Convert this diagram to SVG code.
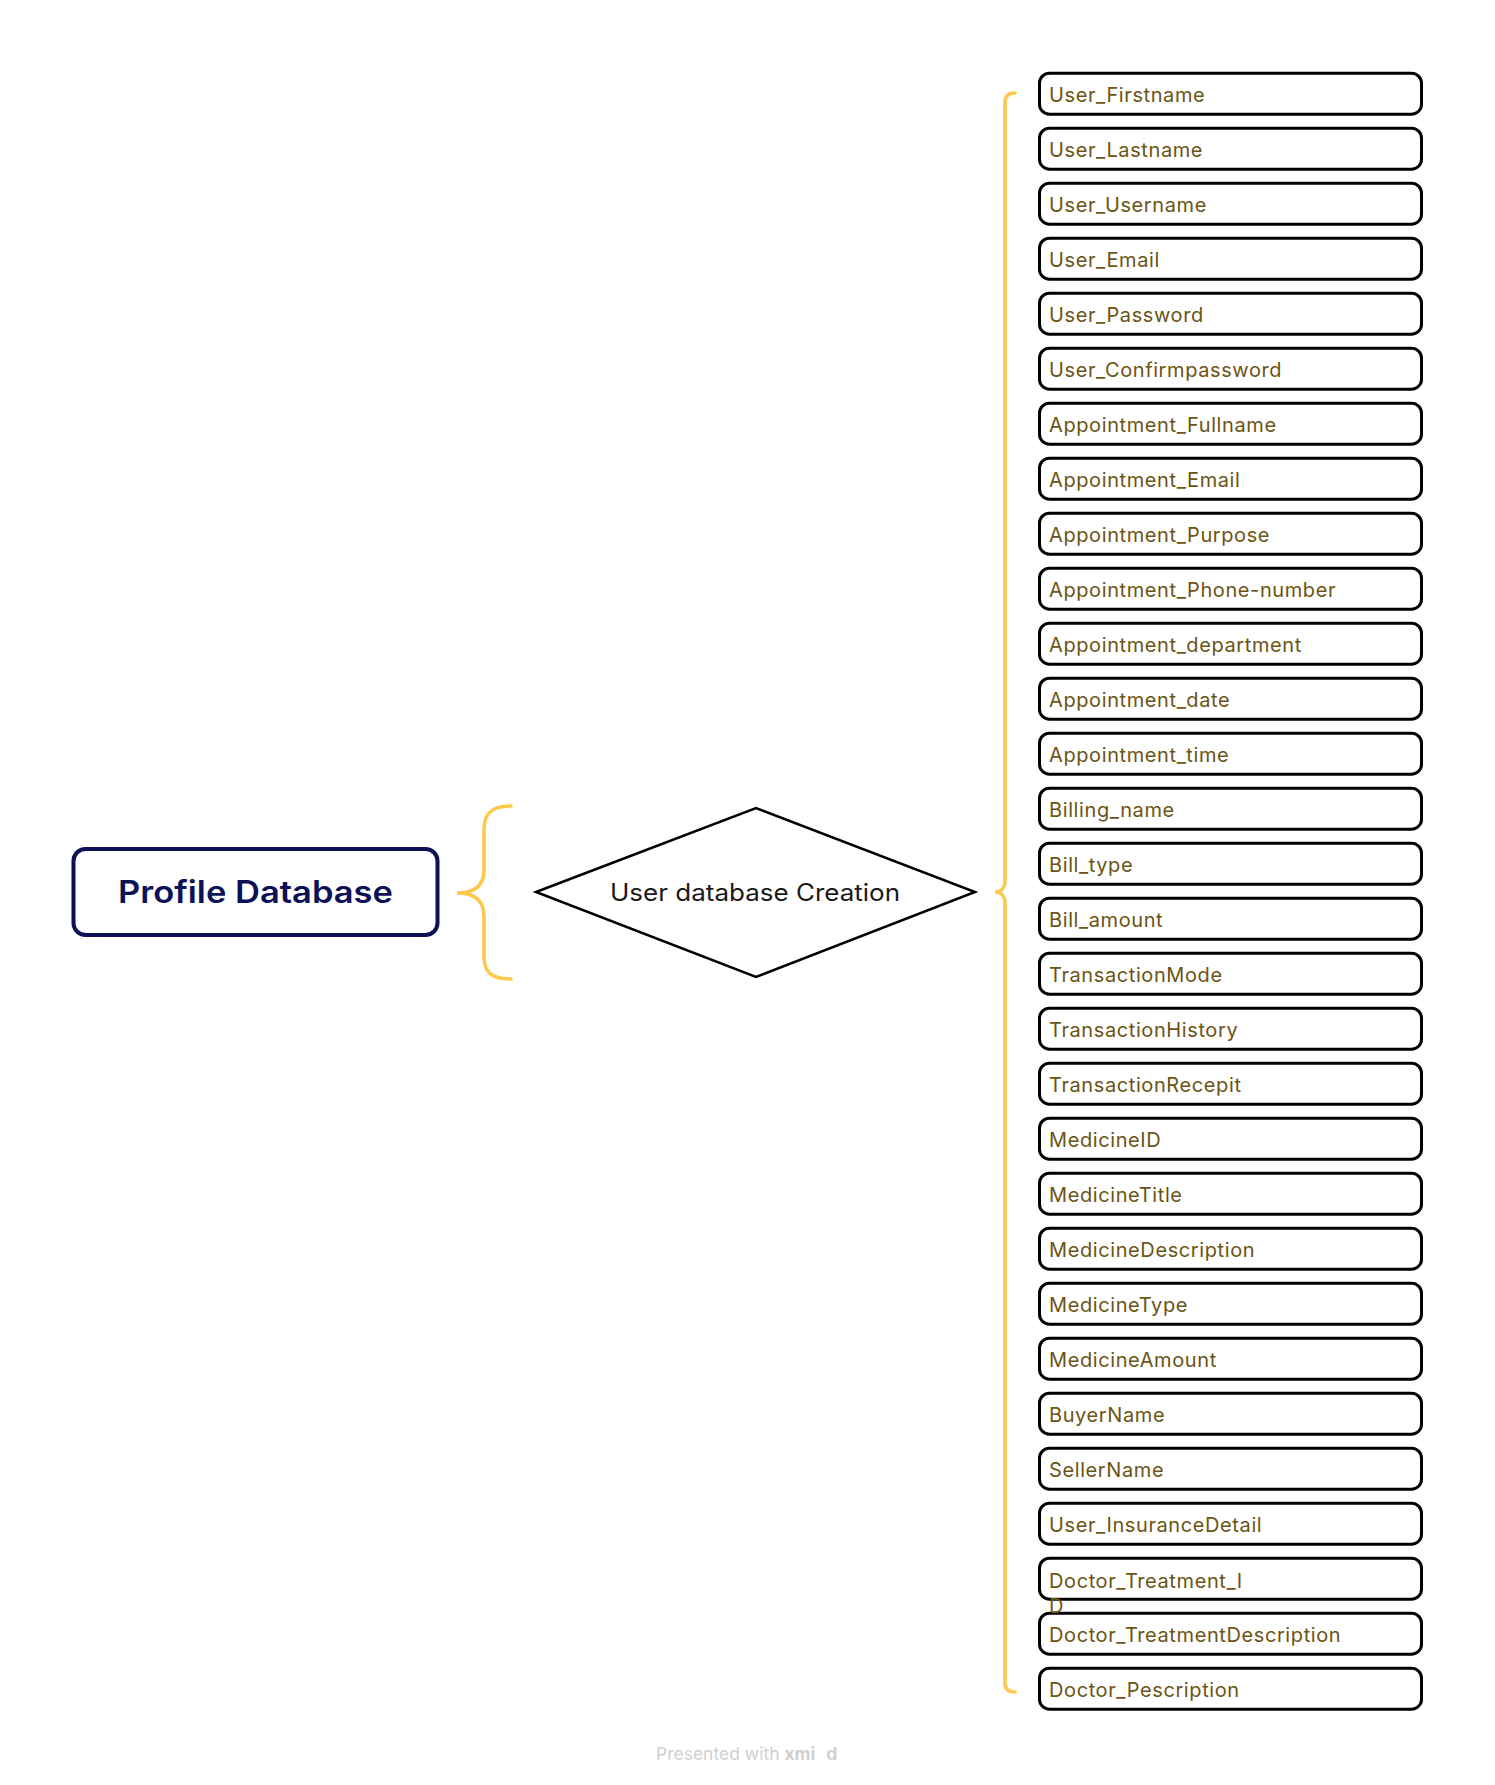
<svg xmlns="http://www.w3.org/2000/svg" width="1495" height="1785" viewBox="0 0 1495 1785">
<style>
.item rect{fill:#fff;stroke:#000;stroke-width:3}
.item text{font-family:Inter,"Noto Sans","Liberation Sans",sans-serif;font-size:20px;letter-spacing:0.6px;fill:#6B5414}
.brace{fill:none;stroke:#FDC84B;stroke-width:3.5;stroke-linecap:round}
</style>
<rect width="1495" height="1785" fill="#fff"/>
<g id="connectors">
<path class="brace" d="M511,806 C490,806 484,815 484,830 L484,870 C484,885 475,893 457,893 C475,893 484,901 484,916 L484,956 C484,971 490,979 511,979"/>
<path class="brace" d="M1015,93 C1008,93 1005,96 1005,102 L1005,881 C1005,888 1001,892 995,892 C1001,892 1005,896 1005,903 L1005,1683 C1005,1689 1008,1692 1015,1692"/>
</g>
<g id="profile">
<rect x="73.5" y="849" width="364" height="86" rx="12" fill="#fff" stroke="#0D1258" stroke-width="4"/>
<text x="255.5" y="903" text-anchor="middle" font-family="Inter,'Noto Sans','Liberation Sans',sans-serif" font-size="31" font-weight="600" fill="#0D1258" textLength="275" lengthAdjust="spacingAndGlyphs">Profile Database</text>
</g>
<g id="creation">
<polygon points="536,892 756,808 975,892 756,977" fill="#fff" stroke="#000" stroke-width="2.5"/>
<text x="755" y="900.5" text-anchor="middle" font-family="Inter,'Noto Sans','Liberation Sans',sans-serif" font-size="24" fill="#1a1a1a" textLength="290" lengthAdjust="spacingAndGlyphs">User database Creation</text>
</g>
<g id="item1" class="item"><rect x="1039.5" y="73.2" width="382" height="41" rx="10"/><text x="1049" y="101.7">User_Firstname</text></g>
<g id="item2" class="item"><rect x="1039.5" y="128.2" width="382" height="41" rx="10"/><text x="1049" y="156.7">User_Lastname</text></g>
<g id="item3" class="item"><rect x="1039.5" y="183.2" width="382" height="41" rx="10"/><text x="1049" y="211.7">User_Username</text></g>
<g id="item4" class="item"><rect x="1039.5" y="238.2" width="382" height="41" rx="10"/><text x="1049" y="266.7">User_Email</text></g>
<g id="item5" class="item"><rect x="1039.5" y="293.2" width="382" height="41" rx="10"/><text x="1049" y="321.7">User_Password</text></g>
<g id="item6" class="item"><rect x="1039.5" y="348.2" width="382" height="41" rx="10"/><text x="1049" y="376.7">User_Confirmpassword</text></g>
<g id="item7" class="item"><rect x="1039.5" y="403.2" width="382" height="41" rx="10"/><text x="1049" y="431.7">Appointment_Fullname</text></g>
<g id="item8" class="item"><rect x="1039.5" y="458.2" width="382" height="41" rx="10"/><text x="1049" y="486.7">Appointment_Email</text></g>
<g id="item9" class="item"><rect x="1039.5" y="513.2" width="382" height="41" rx="10"/><text x="1049" y="541.7">Appointment_Purpose</text></g>
<g id="item10" class="item"><rect x="1039.5" y="568.2" width="382" height="41" rx="10"/><text x="1049" y="596.7">Appointment_Phone-number</text></g>
<g id="item11" class="item"><rect x="1039.5" y="623.2" width="382" height="41" rx="10"/><text x="1049" y="651.7">Appointment_department</text></g>
<g id="item12" class="item"><rect x="1039.5" y="678.2" width="382" height="41" rx="10"/><text x="1049" y="706.7">Appointment_date</text></g>
<g id="item13" class="item"><rect x="1039.5" y="733.2" width="382" height="41" rx="10"/><text x="1049" y="761.7">Appointment_time</text></g>
<g id="item14" class="item"><rect x="1039.5" y="788.2" width="382" height="41" rx="10"/><text x="1049" y="816.7">Billing_name</text></g>
<g id="item15" class="item"><rect x="1039.5" y="843.2" width="382" height="41" rx="10"/><text x="1049" y="871.7">Bill_type</text></g>
<g id="item16" class="item"><rect x="1039.5" y="898.2" width="382" height="41" rx="10"/><text x="1049" y="926.7">Bill_amount</text></g>
<g id="item17" class="item"><rect x="1039.5" y="953.2" width="382" height="41" rx="10"/><text x="1049" y="981.7">TransactionMode</text></g>
<g id="item18" class="item"><rect x="1039.5" y="1008.2" width="382" height="41" rx="10"/><text x="1049" y="1036.7">TransactionHistory</text></g>
<g id="item19" class="item"><rect x="1039.5" y="1063.2" width="382" height="41" rx="10"/><text x="1049" y="1091.7">TransactionRecepit</text></g>
<g id="item20" class="item"><rect x="1039.5" y="1118.2" width="382" height="41" rx="10"/><text x="1049" y="1146.7">MedicineID</text></g>
<g id="item21" class="item"><rect x="1039.5" y="1173.2" width="382" height="41" rx="10"/><text x="1049" y="1201.7">MedicineTitle</text></g>
<g id="item22" class="item"><rect x="1039.5" y="1228.2" width="382" height="41" rx="10"/><text x="1049" y="1256.7">MedicineDescription</text></g>
<g id="item23" class="item"><rect x="1039.5" y="1283.2" width="382" height="41" rx="10"/><text x="1049" y="1311.7">MedicineType</text></g>
<g id="item24" class="item"><rect x="1039.5" y="1338.2" width="382" height="41" rx="10"/><text x="1049" y="1366.7">MedicineAmount</text></g>
<g id="item25" class="item"><rect x="1039.5" y="1393.2" width="382" height="41" rx="10"/><text x="1049" y="1421.7">BuyerName</text></g>
<g id="item26" class="item"><rect x="1039.5" y="1448.2" width="382" height="41" rx="10"/><text x="1049" y="1476.7">SellerName</text></g>
<g id="item27" class="item"><rect x="1039.5" y="1503.2" width="382" height="41" rx="10"/><text x="1049" y="1531.7">User_InsuranceDetail</text></g>
<g id="item28" class="item"><rect x="1039.5" y="1558.2" width="382" height="41" rx="10"/><text x="1049" y="1588.2">Doctor_Treatment_I</text></g>
<g id="item29" class="item"><rect x="1039.5" y="1613.2" width="382" height="41" rx="10"/><text x="1049" y="1641.7">Doctor_TreatmentDescription</text></g>
<g id="item30" class="item"><rect x="1039.5" y="1668.2" width="382" height="41" rx="10"/><text x="1049" y="1696.7">Doctor_Pescription</text></g>
<text x="1049" y="1612.7" font-family="Inter,'Noto Sans','Liberation Sans',sans-serif" font-size="20" fill="#6B5414">D</text>
<text x="656" y="1760" font-family="Inter,'Noto Sans','Liberation Sans',sans-serif" font-size="17.5" fill="#D0D0D0">Presented with <tspan font-weight="700">xmi</tspan><tspan font-weight="700" dx="11">d</tspan></text>
</svg>
